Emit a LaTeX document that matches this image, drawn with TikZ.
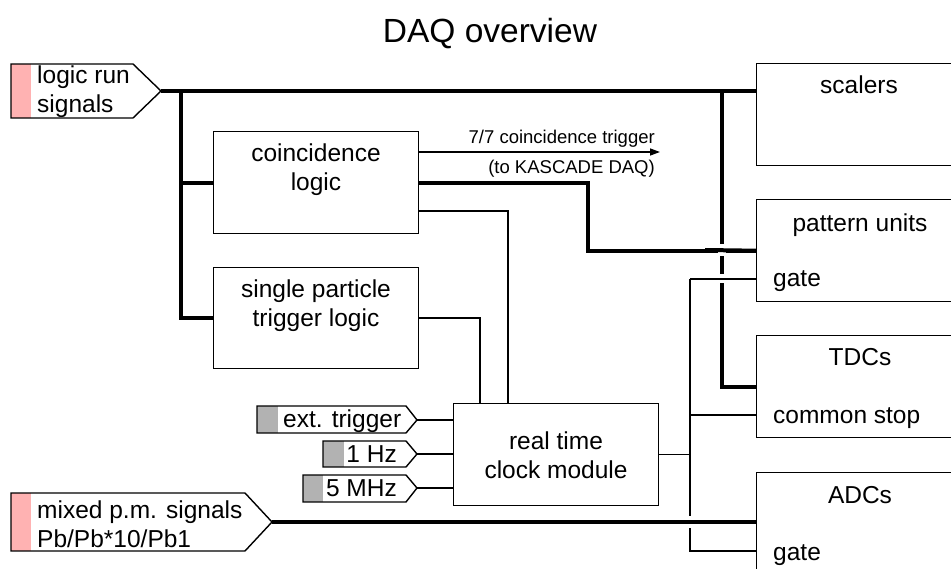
\documentclass[tikz,border=0pt]{standalone}
\usepackage{fontspec}
\setmainfont{Liberation Sans}
\usetikzlibrary{arrows.meta}
\definecolor{sigpink}{RGB}{255,178,178}
\definecolor{siggray}{RGB}{178,178,178}
\begin{document}
\begin{tikzpicture}[x=1pt,y=-1pt,
  wire/.style={line width=1.4pt},
  bus/.style={line width=4pt},
  box/.style={draw,line width=1.4pt,rectangle,inner sep=0pt,anchor=north west,minimum width=220pt},
  lbl/.style={font=\fontsize{24.5}{29}\selectfont,inner sep=0pt},
  smalllbl/.style={font=\fontsize{18.5}{22}\selectfont,inner sep=0pt},
  sig/.style={draw,line width=1.4pt},
  gapfill/.style={fill=white,draw=none}]
\useasboundingbox (0,0) rectangle (951,569);
\clip (0,0) rectangle (951,569);

% title
\node[font=\fontsize{33.5}{40}\selectfont,inner sep=0pt,anchor=base] (title) at (490,43) {DAQ overview};

% boxes
\node[box,minimum height=102pt] (scalers) at (756,63) {};
\node[box,minimum height=102pt] (pattern) at (756,199) {};
\node[box,minimum height=102pt] (tdc) at (756,335) {};
\node[box,minimum height=110pt] (adc) at (756,472) {};
\node[box,minimum width=205pt,minimum height=102pt] (coinc) at (213,131) {};
\node[box,minimum width=205pt,minimum height=101pt] (single) at (213,267) {};
\node[box,minimum width=205pt,minimum height=102pt] (rtc) at (453,403) {};

% box texts
\node[lbl,anchor=base] (tscal) at (859,94) {scalers};
\node[lbl,anchor=base] (tpat) at (860,232) {pattern units};
\node[lbl,anchor=base west] (tpgate) at (773,287) {gate};
\node[lbl,anchor=base] (ttdc) at (860,366) {TDCs};
\node[lbl,anchor=base west] (tstop) at (773,423) {common stop};
\node[lbl,anchor=base] (tadc) at (860,503) {ADCs};
\node[lbl,anchor=base west] (tagate) at (773,560) {gate};
\node[lbl,align=center] (tcoinc) at (316,170) {coincidence\\logic};
\node[lbl,align=center] (tsingle) at (316,306) {single particle\\trigger logic};
\node[lbl,align=center] (trtc) at (556,455) {real time\\clock module};

% input signals
\fill[sigpink] (11,64) rectangle (31,118);
\draw[sig] (11,64) -- (133,64) -- (161,91) -- (133,118) -- (11,118) -- cycle;
\coordinate (lrtip) at (161,91);
\node[lbl,align=left,anchor=west] (tlr) at (37,92) {logic run\\signals};

\fill[sigpink] (11,493) rectangle (31,551);
\draw[sig] (11,493) -- (245,493) -- (272,522) -- (245,551) -- (11,551) -- cycle;
\coordinate (mixtip) at (272,522);
\node[lbl,align=left,anchor=west] (tmix) at (37,524) {mixed p.m. signals\\Pb/Pb*10/Pb1};

\fill[siggray] (257,406) rectangle (278,433);
\draw[sig] (257,406) -- (406,406) -- (417,420) -- (406,433) -- (257,433) -- cycle;
\coordinate (exttip) at (417,420);
\node[lbl,anchor=base west] (text) at (283,428) {ext. trigger};

\fill[siggray] (323,441) rectangle (344,467);
\draw[sig] (323,441) -- (406,441) -- (417,454) -- (406,467) -- (323,467) -- cycle;
\coordinate (hztip) at (417,454);
\node[lbl,anchor=base east] (thz) at (397,462) {1 Hz};

\fill[siggray] (303,475) rectangle (323,502);
\draw[sig] (303,475) -- (406,475) -- (417,488) -- (406,502) -- (303,502) -- cycle;
\coordinate (mhztip) at (417,488);
\node[lbl,anchor=base east] (tmhz) at (397,496) {5 MHz};

% junction points
\coordinate (j1) at (181,91);
\coordinate (j2) at (722,91);
\coordinate (j3) at (690,279);

% buses
\draw[bus] (lrtip) -- (scalers.west |- lrtip);
\draw[bus] (coinc.west) -| (j1) |- (single.west);
\draw[bus] (j2) |- (tdc.west);
\draw[bus] (coinc.east) -| (588,216) |- (pattern.west);
\draw[bus] (mixtip) -- (adc.west |- mixtip);

% wires
\draw[wire,-{Triangle[length=10pt,width=7pt]}] (coinc.east |- 0,152) -- (660,152);
\node[smalllbl,anchor=base east] (ttrig) at (655,144) {7/7 coincidence trigger};
\node[smalllbl,anchor=base east] (tkas) at (655,174) {(to KASCADE DAQ)};
\draw[wire] (coinc.east |- 0,211) -| (rtc.north -| 508,0);
\draw[wire] (single.east) -| (rtc.north -| 480,0);
\draw[wire] (exttip) -- (rtc.west |- exttip);
\draw[wire] (hztip) -- (rtc.west |- hztip);
\draw[wire] (mhztip) -- (rtc.west |- mhztip);
\draw[wire] (rtc.east) -- (rtc.east -| j3);
\draw[wire] (j3) -- (pattern.west |- j3);
\draw[wire] (j3) |- (tdc.west |- 0,415);
\draw[wire] (j3) |- (adc.west |- 0,551);

% crossing gaps
\fill[gapfill] (718,244) rectangle (726,256);
\draw[bus] (705,250) -- (pattern.west);
\fill[gapfill] (718,274.5) rectangle (726,283.5);
\draw[wire] (705,279) -- (pattern.west |- j3);
\fill[gapfill] (687,516) rectangle (693,528);
\draw[bus] (675,522) -- (adc.west |- mixtip);
\end{tikzpicture}
\end{document}
